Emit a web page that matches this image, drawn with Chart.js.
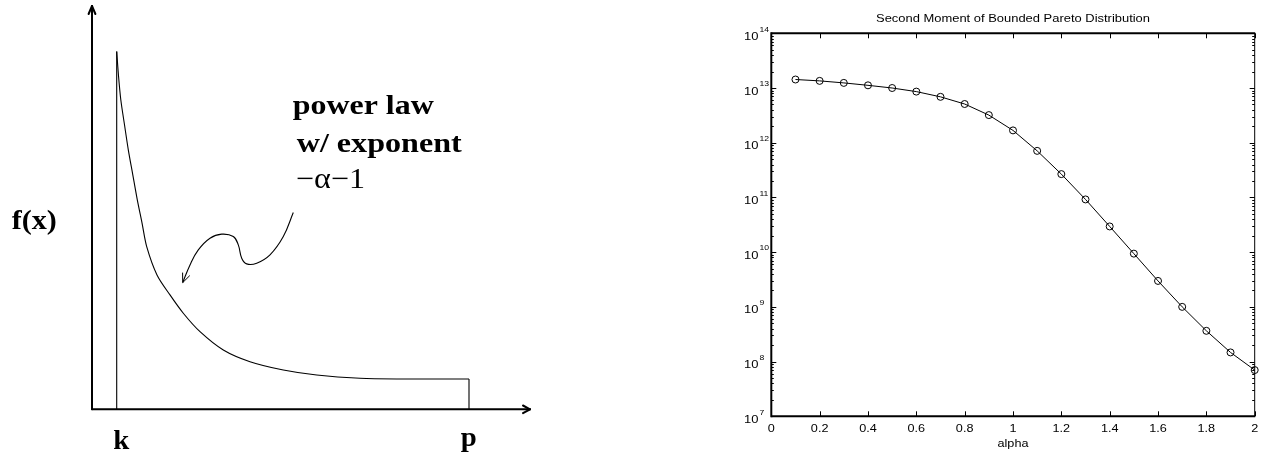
<!DOCTYPE html>
<html>
<head>
<meta charset="utf-8">
<script src="https://cdn.jsdelivr.net/npm/chart.js@4.4.0/dist/chart.umd.min.js"></script>
<style>
  html, body { margin: 0; padding: 0; background: #fff; }
  body { width: 1263px; height: 453px; position: relative; overflow: hidden; }
  #leftBox { position: absolute; left: 0; top: 0; width: 540px; height: 453px; }
  #rightBox { position: absolute; left: 700px; top: 0; width: 563px; height: 453px; }
</style>
</head>
<body>
<div id="leftBox"><canvas id="densityChart"></canvas></div>
<div id="rightBox"><canvas id="momentChart"></canvas></div>
<script>
// left panel: sketch of the density, in sketch units
const boundX = [24.7, 377];   // k, p
const curveX = [24.7, 26.5, 28.8, 32.5, 36.3, 40.8, 45.3, 50, 54.7, 65, 78, 91.3, 108, 131.3, 158, 191.3, 224.7, 268, 308, 377];
const curveY = [357.6, 333.3, 309.3, 284.3, 259.3, 234.3, 209.3, 186.3, 162.6, 134.3, 114.3, 96, 77.6, 59.3, 47.6, 39.3, 34.3, 31, 30.3, 30.3];
const pointerX = [201.3, 191.3, 178, 164.7, 154.7, 149.7, 146.3, 141.3, 129.7, 118, 106.3, 98, 90.7];
const pointerY = [196.6, 172.6, 154.3, 146, 145.3, 151, 164.3, 172.6, 175, 171, 159.3, 144.3, 126.6];

// right panel: second moment vs alpha
const alpha = [0.1, 0.2, 0.3, 0.4, 0.5, 0.6, 0.7, 0.8, 0.9, 1.0, 1.1, 1.2, 1.3, 1.4, 1.5, 1.6, 1.7, 1.8, 1.9, 2.0];
const secondMoment = [1.43e13, 1.35e13, 1.24e13, 1.12e13, 1.0e13, 8.6e12, 6.9e12, 5.1e12, 3.2e12, 1.68e12,
                      7.1e11, 2.67e11, 9.2e10, 2.95e10, 9.4e9, 2.98e9, 1.0e9, 3.65e8, 1.47e8, 7.0e7];
const xTickLabels = ['0', '0.2', '0.4', '0.6', '0.8', '1', '1.2', '1.4', '1.6', '1.8', '2'];
const yTickExponents = [7, 8, 9, 10, 11, 12, 13, 14];

Chart.defaults.animation = false;

const SERIF = '"Liberation Serif", "Times New Roman", serif';
const SANS = '"Liberation Sans", Arial, Helvetica, sans-serif';

function drawText(ctx, text, x, y, font, sx, align) {
    ctx.save();
    ctx.font = font;
    ctx.fillStyle = '#000';
    ctx.textBaseline = 'alphabetic';
    ctx.textAlign = align || 'left';
    ctx.translate(x, y);
    ctx.scale(sx, 1);
    ctx.fillText(text, 0, 0);
    ctx.restore();
}

// stretch text to a given width (the picture is wider than the fonts)
function drawFit(ctx, text, x, y, font, width, align) {
    ctx.save();
    ctx.font = font;
    const w = ctx.measureText(text).width;
    ctx.restore();
    drawText(ctx, text, x, y, font, width / w, align);
}

function line(ctx, x1, y1, x2, y2) {
    ctx.beginPath();
    ctx.moveTo(x1, y1);
    ctx.lineTo(x2, y2);
    ctx.stroke();
}

const sketchDecor = {
    id: 'sketchDecor',
    afterDraw(chart) {
        const ctx = chart.ctx;
        const xs = chart.scales.x, ys = chart.scales.y;
        const x0 = xs.getPixelForValue(0), y0 = ys.getPixelForValue(0);
        const xEnd = xs.getPixelForValue(xs.max), yTop = ys.getPixelForValue(ys.max);

        ctx.save();
        ctx.strokeStyle = '#000';
        ctx.lineWidth = 2;
        ctx.lineCap = 'round';
        line(ctx, x0, y0, xEnd, y0);
        line(ctx, x0, y0, x0, yTop);
        // arrow heads on the axes
        line(ctx, xEnd, y0, xEnd - 7, y0 - 3.8);
        line(ctx, xEnd, y0, xEnd - 7, y0 + 3.8);
        line(ctx, x0, yTop, x0 - 3.4, yTop + 8);
        line(ctx, x0, yTop, x0 + 3.4, yTop + 8);

        // head of the curved pointer
        const pts = chart.getDatasetMeta(3).data;
        const a = pts[pts.length - 2], b = pts[pts.length - 1];
        const ang = Math.atan2(b.y - a.y, b.x - a.x);
        ctx.lineWidth = 1;
        ctx.lineCap = 'butt';
        [0.4, -0.4].forEach(function(d) {
            line(ctx, b.x, b.y, b.x - 10 * Math.cos(ang + d), b.y - 10 * Math.sin(ang + d));
        });
        ctx.restore();

        drawFit(ctx, 'power law', 292.7, 114, 'bold 28px ' + SERIF, 141);
        drawFit(ctx, 'w/ exponent', 296.7, 151.5, 'bold 28px ' + SERIF, 165);
        drawFit(ctx, '\u2212\u03b1\u22121', 296, 188, '29px ' + SERIF, 69);
        drawFit(ctx, 'f(x)', 11.7, 229.3, 'bold 27px ' + SERIF, 45);
        drawFit(ctx, 'k', xs.getPixelForValue(boundX[0]) - 3.5, 449.3, 'bold 27px ' + SERIF, 16);
        drawFit(ctx, 'p', xs.getPixelForValue(boundX[1]) - 8.3, 446, 'bold 27px ' + SERIF, 16);
    }
};

const lineStyle = {
    showLine: true,
    borderColor: '#000',
    borderWidth: 1.1,
    pointRadius: 0,
    fill: false,
    clip: false
};

const last = curveX.length - 1;
new Chart(document.getElementById('densityChart').getContext('2d'), {
    type: 'scatter',
    data: {
        datasets: [
            Object.assign({
                data: curveX.map(function(x, i) { return { x: x, y: curveY[i] }; }),
                tension: 0.3
            }, lineStyle),
            Object.assign({
                data: [{ x: boundX[0], y: 0 }, { x: boundX[0], y: curveY[0] }]
            }, lineStyle),
            Object.assign({
                data: [{ x: boundX[1], y: curveY[last] }, { x: boundX[1], y: 0 }]
            }, lineStyle),
            Object.assign({
                data: pointerX.map(function(x, i) { return { x: x, y: pointerY[i] }; }),
                tension: 0.4
            }, lineStyle)
        ]
    },
    options: {
        responsive: true,
        maintainAspectRatio: false,
        layout: { padding: { left: 92, top: 6, right: 10, bottom: 43.7 } },
        scales: {
            x: { type: 'linear', min: 0, max: 438, display: false },
            y: { type: 'linear', min: 0, max: 403, display: false }
        },
        plugins: { legend: { display: false }, tooltip: { enabled: false } },
        events: []
    },
    plugins: [sketchDecor]
});

const momentFrame = {
    id: 'momentFrame',
    afterDraw(chart) {
        const ctx = chart.ctx;
        const area = chart.chartArea;
        const xs = chart.scales.x, ys = chart.scales.y;

        ctx.save();
        ctx.strokeStyle = '#000';
        ctx.lineWidth = 1;
        line(ctx, area.right, area.top, area.right, area.bottom);
        ctx.lineWidth = 2;
        line(ctx, area.left, area.bottom, area.right + 0.5, area.bottom);
        line(ctx, area.left, area.top, area.right + 0.5, area.top);
        line(ctx, area.left, area.top - 1, area.left, area.bottom + 1);

        ctx.lineWidth = 1;
        xTickLabels.forEach(function(t) {
            const px = Math.round(xs.getPixelForValue(parseFloat(t))) + 0.5;
            line(ctx, px, area.bottom, px, area.bottom - 5);
            line(ctx, px, area.top, px, area.top + 5);
        });
        yTickExponents.forEach(function(e) {
            const py = Math.round(ys.getPixelForValue(Math.pow(10, e))) + 0.5;
            line(ctx, area.left, py, area.left + 5, py);
            line(ctx, area.right, py, area.right - 5, py);
            if (e < yTickExponents[yTickExponents.length - 1]) {
                for (let m = 2; m <= 9; m++) {
                    const pm = Math.round(ys.getPixelForValue(m * Math.pow(10, e))) + 0.5;
                    line(ctx, area.left, pm, area.left + 2.5, pm);
                    line(ctx, area.right, pm, area.right - 2.5, pm);
                }
            }
        });
        ctx.restore();

        xTickLabels.forEach(function(t) {
            drawText(ctx, t, xs.getPixelForValue(parseFloat(t)), 432, '11px ' + SANS, 1.15, 'center');
        });
        yTickExponents.forEach(function(e) {
            const py = ys.getPixelForValue(Math.pow(10, e));
            ctx.save();
            ctx.font = '11px ' + SANS;
            const w = ctx.measureText('10').width * 1.18;
            ctx.restore();
            drawText(ctx, '10', 44, py + 6.5, '11px ' + SANS, 1.18, 'left');
            drawText(ctx, String(e), 44 + w + 1, py - 1.8, '7.5px ' + SANS, 1.15, 'left');
        });

        const cx = (area.left + area.right) / 2;
        drawFit(ctx, 'Second Moment of Bounded Pareto Distribution', cx, 21.5, '11.5px ' + SANS, 274, 'center');
        drawText(ctx, 'alpha', cx, 447, '11px ' + SANS, 1.15, 'center');
    }
};

new Chart(document.getElementById('momentChart').getContext('2d'), {
    type: 'scatter',
    data: {
        datasets: [{
            data: alpha.map(function(a, i) { return { x: a, y: secondMoment[i] }; }),
            showLine: true,
            borderColor: '#000',
            borderWidth: 1,
            pointStyle: 'circle',
            pointRadius: 3.5,
            pointBorderWidth: 1,
            pointBorderColor: '#000',
            pointBackgroundColor: 'rgba(0,0,0,0)',
            tension: 0,
            clip: false
        }]
    },
    options: {
        responsive: true,
        maintainAspectRatio: false,
        layout: { padding: { left: 71.3, top: 33.3, right: 8.3, bottom: 36.7 } },
        scales: {
            x: { type: 'linear', min: 0, max: 2, display: false },
            y: { type: 'logarithmic', min: 1e7, max: 1e14, display: false }
        },
        plugins: { legend: { display: false }, tooltip: { enabled: false } },
        events: []
    },
    plugins: [momentFrame]
});
</script>
</body>
</html>
